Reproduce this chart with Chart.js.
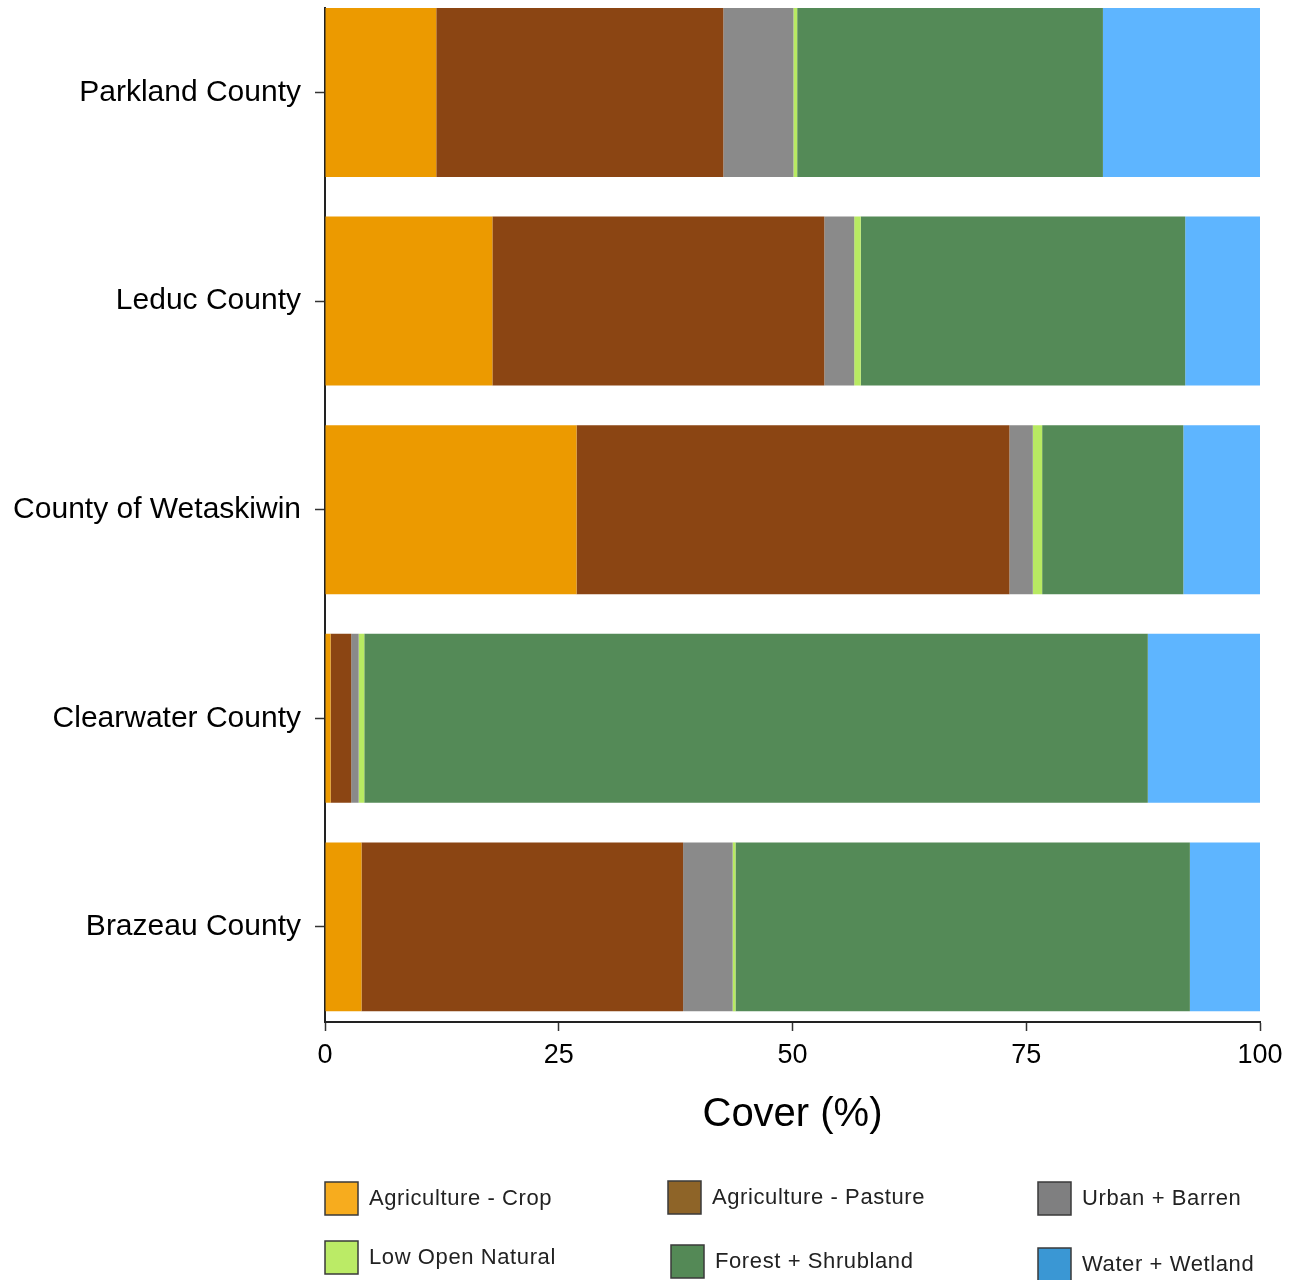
<!DOCTYPE html>
<html>
<head>
<meta charset="utf-8">
<title>Land cover by county</title>
<script src="https://cdn.jsdelivr.net/npm/chart.js@4.4.1/dist/chart.umd.min.js"></script>
<style>
  html, body { margin: 0; padding: 0; background: #fff; }
  #wrap { width: 1304px; height: 1280px; }
</style>
</head>
<body>
<div id="wrap"><canvas id="coverChart" width="1304" height="1280"></canvas></div>
<script>
// ======= Data (cover %) =======
const counties = ['Parkland County', 'Leduc County', 'County of Wetaskiwin', 'Clearwater County', 'Brazeau County'];
const coverClasses = ['Agriculture - Crop', 'Agriculture - Pasture', 'Urban + Barren', 'Low Open Natural', 'Forest + Shrubland', 'Water + Wetland'];

const cropCover    = [11.9, 17.9, 26.9, 0.6, 3.9];
const pastureCover = [30.7, 35.5, 46.3, 2.2, 34.4];
const urbanCover   = [7.5, 3.2, 2.5, 0.8, 5.3];
const lowOpenCover = [0.4, 0.7, 1.0, 0.6, 0.3];
const forestCover  = [32.7, 34.7, 15.1, 83.8, 48.6];
const waterCover   = [16.8, 8.0, 8.2, 12.0, 7.5];

const xTicks = [0, 25, 50, 75, 100];

// ======= Colours (bars and legend swatches differ slightly in the original) =======
const barColors    = ['#EC9A00', '#8B4513', '#8A8A8A', '#B8EA62', '#548A57', '#5EB5FF'];
const legendColors = ['#F7AC1E', '#8E6428', '#7F7F80', '#BBEB66', '#548956', '#3A97D4'];

const FONT = '"Liberation Sans", Arial, Helvetica, sans-serif';

// one dataset per cover class, y = county index
const seriesValues = [cropCover, pastureCover, urbanCover, lowOpenCover, forestCover, waterCover];
const datasets = seriesValues.map((vals, k) => ({
    label: coverClasses[k],
    data: vals.map((v, i) => ({ x: v, y: i })),
    backgroundColor: barColors[k],
    borderWidth: 0,
    barPercentage: 0.81,
    categoryPercentage: 1.0
}));

// ======= Legend drawn under the plot (3 x 2 grid, slightly uneven like the source) =======
const legendSlots = [[325, 1182], [668, 1181], [1038, 1182], [325, 1241], [671, 1245], [1038, 1248]];
const coverLegend = {
    id: 'coverLegend',
    afterDraw(chart) {
        const ctx = chart.ctx;
        ctx.save();
        chart.data.datasets.forEach((ds, i) => {
            const [x, y] = legendSlots[i];
            ctx.fillStyle = legendColors[i];
            ctx.fillRect(x, y, 33, 33);
            ctx.strokeStyle = '#3a3a3a';
            ctx.lineWidth = 1.5;
            ctx.strokeRect(x, y, 33, 33);

            ctx.fillStyle = '#222';
            ctx.font = '22px ' + FONT;
            ctx.letterSpacing = '0.6px';
            ctx.textBaseline = 'middle';
            ctx.textAlign = 'left';
            ctx.fillText(ds.label, x + 44, y + 17);
        });
        ctx.restore();
    }
};

// ======= Chart =======
new Chart(document.getElementById('coverChart'), {
    type: 'bar',
    data: { datasets: datasets },
    options: {
        indexAxis: 'y',
        responsive: false,
        animation: false,
        layout: { padding: { top: 8, right: 44, bottom: 141, left: 0 } },
        plugins: {
            legend: { display: false },
            tooltip: { enabled: false }
        },
        scales: {
            x: {
                type: 'linear',
                min: 0,
                max: 100,
                stacked: true,
                afterBuildTicks: s => { s.ticks = xTicks.map(v => ({ value: v })); },
                afterFit: s => { s.height = 117; },
                ticks: { color: '#000', font: { family: FONT, size: 27 }, padding: 8, maxRotation: 0 },
                grid: { drawOnChartArea: false, drawTicks: true, tickLength: 9, tickColor: '#333', tickWidth: 1.5 },
                border: { display: true, color: '#222', width: 2 },
                title: { display: true, text: 'Cover (%)', color: '#000', font: { family: FONT, size: 40 }, padding: 0 }
            },
            y: {
                type: 'linear',
                reverse: true,
                offset: false,
                min: -0.405,
                max: 4.456,
                stacked: true,
                afterBuildTicks: s => { s.ticks = counties.map((_, i) => ({ value: i })); },
                afterFit: s => {
                    s.width = 325;
                    // labels sit well inside the range, no need for end padding
                    s.paddingTop = 0;
                    s.paddingBottom = 0;
                },
                ticks: { color: '#000', font: { family: FONT, size: 30 }, padding: 14, callback: v => counties[v] },
                grid: { offset: false, drawOnChartArea: false, drawTicks: true, tickLength: 10, tickColor: '#333', tickWidth: 1.5 },
                border: { display: true, color: '#222', width: 2 }
            }
        }
    },
    plugins: [coverLegend]
});
</script>
</body>
</html>
